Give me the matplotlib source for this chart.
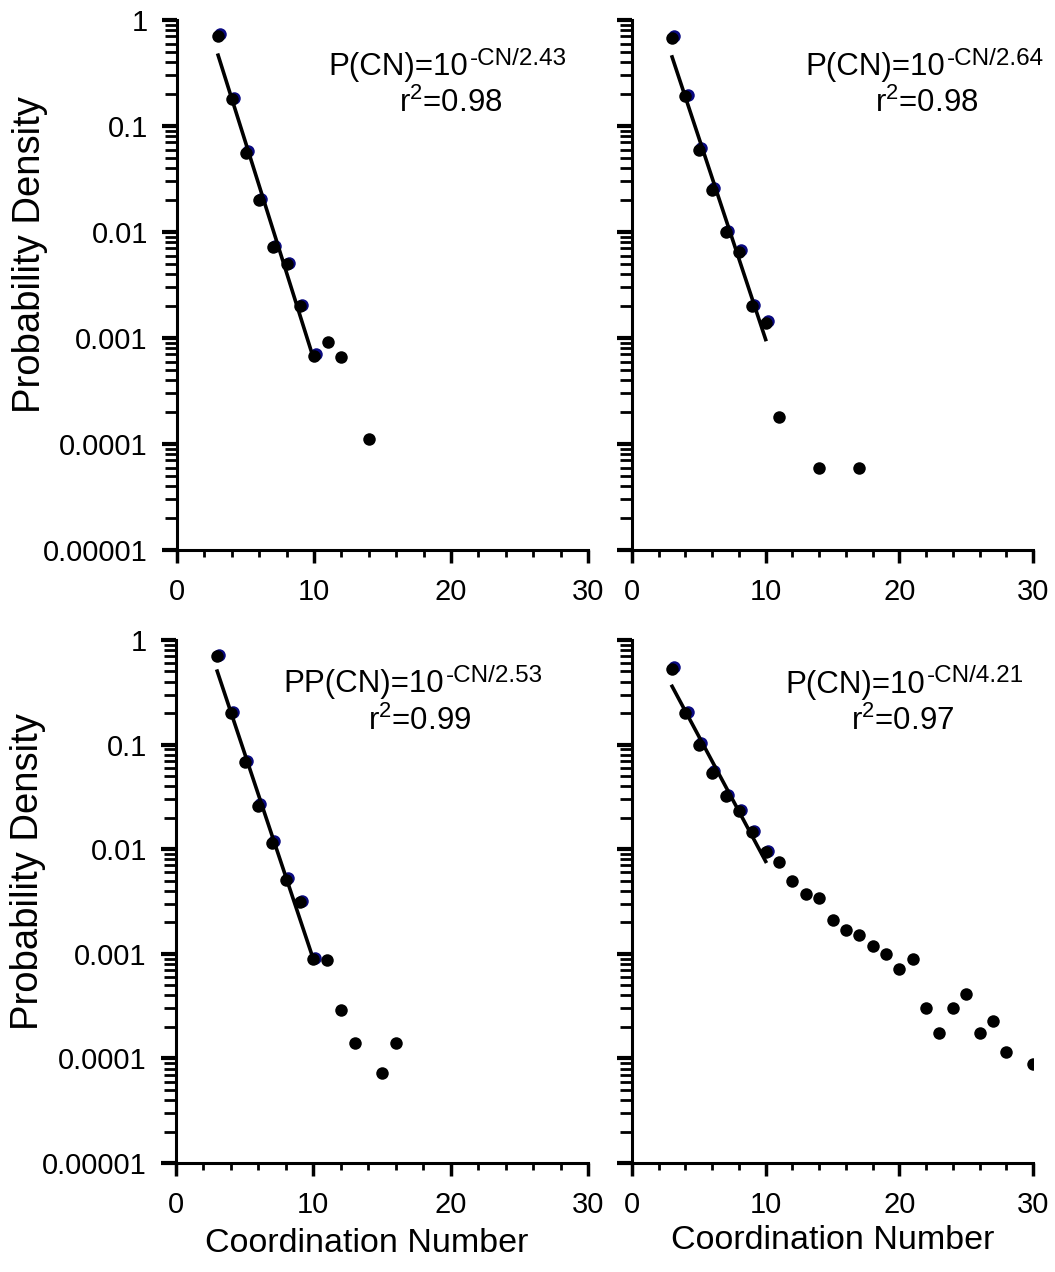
import numpy as np
import matplotlib.pyplot as plt
from matplotlib.ticker import FixedLocator, LogLocator, MultipleLocator, NullFormatter
from matplotlib.transforms import offset_copy

plt.rcParams['font.family'] = ['Liberation Sans', 'DejaVu Sans']
plt.rcParams['mathtext.fontset'] = 'custom'
plt.rcParams['mathtext.rm'] = 'Liberation Sans'
plt.rcParams['mathtext.default'] = 'regular'

# ---- data ----
cn_a = [3, 4, 5, 6, 7, 8, 9, 10, 11, 12, 14]
pd_a = [0.71, 0.18, 0.056, 0.020, 0.0072, 0.0050, 0.0020, 0.00068, 0.00092, 0.00066, 0.000112]

cn_b = [3, 4, 5, 6, 7, 8, 9, 10, 11, 14, 17]
pd_b = [0.68, 0.19, 0.060, 0.025, 0.010, 0.0065, 0.0020, 0.0014, 0.00018, 0.00006, 0.00006]

cn_c = [3, 4, 5, 6, 7, 8, 9, 10, 11, 12, 13, 15, 16]
pd_c = [0.70, 0.20, 0.068, 0.026, 0.0115, 0.0051, 0.0031, 0.00089, 0.00087, 0.00029, 0.00014, 0.000072, 0.00014]

cn_d = list(range(3, 29)) + [30]
pd_d = [0.53, 0.20, 0.10, 0.054, 0.032, 0.023, 0.0146, 0.0094, 0.0075, 0.0050,
        0.0037, 0.0034, 0.0021, 0.0017, 0.0015, 0.0012, 0.0010, 0.00071, 0.00089,
        0.00030, 0.000175, 0.00030, 0.00041, 0.000175, 0.00023, 0.000115, 0.000089]

fit_base = ['P(CN)=10', 'P(CN)=10', 'PP(CN)=10', 'P(CN)=10']
fit_sup = ['-CN/2.43', '-CN/2.64', '-CN/2.53', '-CN/4.21']
r2_text = ['0.98', '0.98', '0.99', '0.97']

fit_max = 10
xticks = [0, 10, 20, 30]
yticks = [0.00001, 0.0001, 0.001, 0.01, 0.1, 1]
ytick_labels = ['0.00001', '0.0001', '0.001', '0.01', '0.1', '1']

# ---- layout ----
W, H = 1055, 1272
fig = plt.figure(figsize=(W / 100, H / 100), dpi=100)

boxes = [
    (177 / W, 1 - 550 / H, 411 / W, 530 / H),
    (632 / W, 1 - 550 / H, 401 / W, 530 / H),
    (176 / W, 1 - 1163 / H, 412 / W, 523 / H),
    (632 / W, 1 - 1163 / H, 401 / W, 523 / H),
]
# formula anchor (junction of base/superscript), r2 centre, in axes fraction
f_pos = [(0.708, 0.896), (0.781, 0.896), (0.650, 0.900), (0.730, 0.899)]
r_pos = [(0.667, 0.826), (0.736, 0.826), (0.592, 0.828), (0.676, 0.828)]

panels = [(cn_a, pd_a), (cn_b, pd_b), (cn_c, pd_c), (cn_d, pd_d)]

for i, (cn, pdens) in enumerate(panels):
    ax = fig.add_axes(boxes[i])
    cn = np.array(cn)
    pdens = np.array(pdens)
    sel = cn <= fit_max

    # blue-ish shadow under the fitted points
    shadow = offset_copy(ax.transData, fig=fig, x=1.5, y=1.0, units='points')
    ax.plot(cn[sel], pdens[sel], 'o', color='#0a0a80', ms=9, mew=0, transform=shadow, zorder=2)
    ax.plot(cn, pdens, 'o', color='black', ms=9, mew=0, zorder=3)

    # exponential fit over the first points
    k, b = np.polyfit(cn[sel], np.log10(pdens[sel]), 1)
    xf = np.linspace(cn[sel].min(), cn[sel].max(), 50)
    ax.plot(xf, 10 ** (b + k * xf), color='black', lw=2.6, zorder=4)

    ax.set_yscale('log')
    ax.set_xlim(0, 30)
    ax.set_ylim(1e-5, 1)

    for s in ['top', 'right']:
        ax.spines[s].set_visible(False)
    for s in ['left', 'bottom']:
        ax.spines[s].set_linewidth(2.2)

    ax.xaxis.set_major_locator(FixedLocator(xticks))
    ax.xaxis.set_minor_locator(MultipleLocator(2))
    ax.yaxis.set_major_locator(FixedLocator(yticks))
    ax.yaxis.set_minor_locator(LogLocator(base=10, subs=np.arange(2, 10), numticks=20))
    ax.yaxis.set_minor_formatter(NullFormatter())

    ax.tick_params(axis='x', which='major', direction='out', length=9, width=2.5,
                   labelsize=21, pad=11)
    ax.tick_params(axis='x', which='minor', direction='out', length=5, width=2)
    ax.tick_params(axis='y', which='major', direction='out', length=11, width=3,
                   labelsize=21, pad=10)
    ax.tick_params(axis='y', which='minor', direction='out', length=9, width=2)

    if i % 2 == 0:
        ax.set_yticklabels(ytick_labels)
        ax.set_ylabel('Probability Density', fontsize=27.5)
        ax.yaxis.set_label_coords(-0.315, 0.557)
    else:
        ax.set_yticklabels([])

    if i >= 2:
        ax.set_xlabel('Coordination Number', fontsize=24.5)
        if i == 2:
            ax.xaxis.set_label_coords(0.464, -0.124)
        else:
            ax.xaxis.set_label_coords(0.50, -0.119)

    fx, fy = f_pos[i]
    ax.annotate(fit_base[i], xy=(fx, fy), xycoords='axes fraction', ha='right',
                va='baseline', fontsize=22.5, annotation_clip=False)
    ax.annotate(fit_sup[i], xy=(fx, fy), xycoords='axes fraction', xytext=(1.5, 7.5),
                textcoords='offset points', ha='left', va='baseline', fontsize=17.5,
                annotation_clip=False)
    rx, ry = r_pos[i]
    ax.text(rx, ry, 'r$^{2}$=' + r2_text[i], transform=ax.transAxes, ha='center',
            va='baseline', fontsize=22.5)

fig.savefig('out.png', dpi=100)
